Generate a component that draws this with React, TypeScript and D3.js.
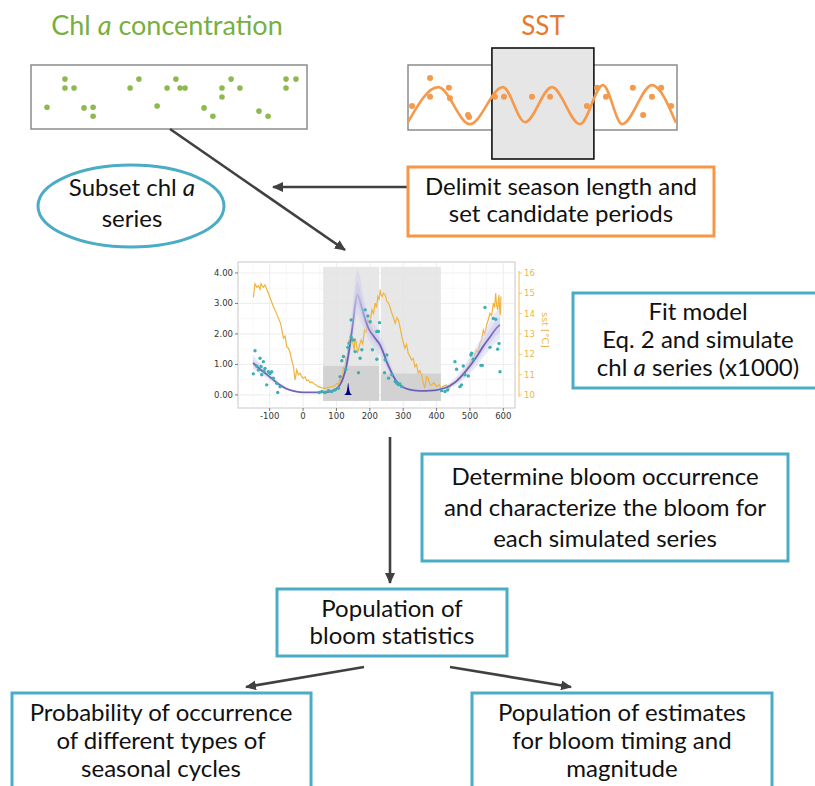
import React from 'react';
import * as d3 from 'd3';

const FONT = 'Lato, "Open Sans", sans-serif';
const GREEN_T = '#77AF41';
const GREEN_D = '#8DB94E';
const ORANGE_T = '#E8792A';
const ORANGE_L = '#F59A4C';
const ORANGE_B = '#F79646';
const TEAL = '#4BACC6';
const ARROW = '#404040';

// ---------- top-left panel: chl a samples ----------
const chlT = [12.3, 12.3, 15.6, 5.8, 19.2, 22.5, 22.5, 35.9, 39.1, 45.7, 49.3, 52.5, 54, 55.8, 62.7, 65.9, 69.2, 69.2, 72.5, 75.7, 82.6, 85.9, 92.4, 96, 92.4];
const chlV = [0.78, 0.64, 0.64, 0.34, 0.33, 0.34, 0.2, 0.64, 0.78, 0.36, 0.64, 0.78, 0.64, 0.64, 0.33, 0.2, 0.64, 0.5, 0.78, 0.64, 0.28, 0.2, 0.78, 0.78, 0.64];

// ---------- top-right panel: SST ----------
const sstCurveT = [0, 11.2, 23.0, 35.3, 43.5, 53.5, 63.9, 72.5, 79.6, 90.7, 99.6];
const sstCurveV = [0.12, 0.66, 0.09, 0.66, 0.12, 0.66, 0.09, 0.69, 0.09, 0.69, 0.11];
const sstDotT = [1.5, 8.2, 8.2, 15.2, 15.6, 22.3, 22.7, 32.3, 35.7, 46.1, 52.8, 66.5, 70.3, 73.6, 83.6, 87.4, 90.7, 94.1, 97.8];
const sstDotV = [0.37, 0.8, 0.51, 0.65, 0.49, 0.23, 0.2, 0.51, 0.51, 0.51, 0.51, 0.37, 0.65, 0.51, 0.65, 0.23, 0.51, 0.65, 0.37];
const seasonWindow = [31.2, 69.1];

// ---------- central chart ----------
const xTicks = [-100, 0, 100, 200, 300, 400, 500, 600];
const xMinor = [-150, -50, 50, 150, 250, 350, 450, 550];
const yTicks = [0, 1, 2, 3, 4];
const yMinor = [0.5, 1.5, 2.5, 3.5];
const sstTicks = [10, 11, 12, 13, 14, 15, 16];

const periodStart = [60, 233];
const periodEnd = [228, 413];
const periodTop = [4.2, 4.2];
const bloomLevel = [0.95, 0.7];

const sstDay = [-149, -144, -139, -134, -129, -126, -122, -119, -114, -109, -104, -97, -89, -82, -74, -67, -59, -54, -49, -44, -39, -34, -29, -24, -19, -14, -9, -4, 1, 6, 11, 16, 21, 26, 31, 38, 46, 56, 66, 76, 86, 94, 101, 106, 111, 116, 121, 125, 128, 132, 136, 141, 146, 150, 153, 156, 159, 163, 166, 170, 174, 179, 184, 189, 194, 200, 206, 211, 216, 220, 224, 228, 231, 234, 237, 241, 246, 251, 256, 261, 266, 271, 276, 281, 286, 291, 296, 300, 305, 310, 315, 320, 325, 330, 335, 340, 345, 350, 355, 360, 365, 370, 375, 380, 385, 392, 400, 407, 415, 422, 430, 437, 445, 455, 465, 475, 485, 495, 505, 512, 520, 525, 530, 535, 540, 545, 550, 555, 560, 565, 570, 574, 577, 580, 583, 585, 587, 589, 591, 593];
const sstVal = [14.8, 15.47, 15.3, 15.37, 15.2, 15.47, 15.35, 15.3, 15.42, 15.2, 15.0, 14.7, 14.35, 14.1, 13.78, 13.5, 12.8, 12.9, 12.38, 12.3, 12.1, 11.72, 11.4, 10.74, 11.23, 11.0, 11.07, 10.9, 10.82, 10.9, 10.7, 10.74, 10.6, 10.65, 10.57, 10.5, 10.41, 10.35, 10.33, 10.38, 10.41, 10.45, 10.57, 10.5, 10.82, 10.6, 11.39, 11.0, 11.89, 11.5, 12.7, 12.4, 12.87, 12.5, 12.2, 12.8, 12.6, 12.1, 12.2, 12.5, 12.7, 12.5, 13.2, 13.1, 13.7, 13.5, 14.19, 14.0, 14.52, 14.3, 14.84, 14.7, 15.17, 14.9, 14.84, 15.0, 14.92, 14.6, 14.52, 14.3, 14.02, 13.8, 13.53, 13.8, 13.69, 13.3, 12.87, 12.6, 12.3, 12.5, 12.05, 11.9, 11.72, 11.8, 11.39, 11.5, 11.07, 11.2, 10.99, 10.6, 10.33, 10.9, 10.82, 10.5, 10.49, 10.6, 10.41, 10.5, 10.33, 10.45, 10.49, 10.3, 10.57, 10.6, 10.82, 10.9, 11.15, 11.4, 11.72, 11.9, 12.2, 12.1, 12.55, 12.7, 13.2, 13.0, 13.45, 13.7, 14.02, 13.9, 14.52, 14.3, 15.0, 14.4, 14.19, 14.6, 14.92, 14.1, 13.94, 14.84];

const obsDay = [-144, -149, -139, -129, -126, -119, -114, -109, -104, -94, -89, -79, -76, -69, -124, -134, -117, -99, 48, 56, 66, 76, 86, 96, 106, 111, 116, 121, 128, 134, 138, 144, 144, 151, 156, 166, 171, 176, 186, 194, 201, 208, 221, 226, 229, 221, 246, 244, 251, 256, 266, 276, 281, 286, 290, 296, 415, 425, 433, 455, 460, 470, 475, 480, 485, 495, 503, 510, 505, 533, 537, 545, 560, 570, 577, 583, 587, 590];
const obsVal = [1.45, 0.69, 0.95, 1.2, 0.93, 1.09, 0.87, 0.33, 0.76, 0.76, 0.55, 0.38, 0.08, 0.27, 0.66, 0.82, 0.78, 0.7, 0.08, 0.11, 0.08, 0.14, 0.11, 0.16, 0.22, 0.6, 1.12, 1.26, 0.84, 1.56, 1.69, 1.89, 2.46, 1.8, 1.42, 0.73, 1.2, 1.48, 2.79, 2.59, 2.4, 1.48, 2.08, 2.08, 2.37, 1.17, 1.15, 0.73, 1.31, 0.55, 0.66, 0.44, 0.38, 0.33, 0.36, 0.27, 0.14, 0.11, 0.16, 1.09, 0.84, 0.27, 0.33, 0.95, 0.66, 0.62, 1.31, 1.17, 1.37, 0.97, 0.97, 2.87, 1.56, 2.51, 2.48, 1.5, 1.69, 0.76];

const fitDay = [-150, -130, -110, -90, -70, -50, -30, -10, 10, 30, 50, 70, 90, 100, 110, 120, 130, 140, 150, 158, 163, 170, 180, 190, 200, 210, 220, 230, 240, 250, 260, 270, 280, 290, 300, 320, 340, 360, 380, 400, 420, 440, 460, 480, 500, 520, 540, 560, 580, 590];
const fitMean = [1.05, 0.85, 0.68, 0.5, 0.33, 0.2, 0.13, 0.09, 0.08, 0.08, 0.08, 0.09, 0.14, 0.2, 0.32, 0.55, 0.95, 1.6, 2.4, 3.1, 3.3, 3.1, 2.7, 2.35, 2.1, 1.95, 1.8, 1.65, 1.4, 1.1, 0.85, 0.62, 0.45, 0.33, 0.25, 0.17, 0.14, 0.13, 0.14, 0.16, 0.21, 0.3, 0.45, 0.68, 0.95, 1.25, 1.6, 1.9, 2.2, 2.3];
const simUpper = [1.3, 1.05, 0.82, 0.6, 0.4, 0.25, 0.16, 0.11, 0.1, 0.1, 0.1, 0.12, 0.18, 0.26, 0.42, 0.75, 1.3, 2.1, 3.1, 3.9, 4.12, 3.9, 3.3, 2.85, 2.55, 2.35, 2.2, 2.0, 1.75, 1.4, 1.1, 0.82, 0.6, 0.44, 0.33, 0.22, 0.18, 0.16, 0.17, 0.2, 0.27, 0.4, 0.6, 0.9, 1.25, 1.6, 2.0, 2.4, 2.75, 2.85];
const simLower = [0.85, 0.7, 0.56, 0.41, 0.27, 0.16, 0.1, 0.07, 0.06, 0.06, 0.06, 0.07, 0.1, 0.15, 0.24, 0.42, 0.72, 1.25, 1.9, 2.5, 2.65, 2.5, 2.2, 1.95, 1.75, 1.6, 1.45, 1.3, 1.1, 0.85, 0.65, 0.47, 0.34, 0.25, 0.19, 0.13, 0.11, 0.1, 0.11, 0.12, 0.16, 0.22, 0.33, 0.5, 0.72, 0.95, 1.25, 1.5, 1.75, 1.85];

const bloomDay = [122, 126, 129, 131, 133, 134, 135, 136, 137, 139, 141, 144, 148];
const bloomDens = [0, 0.02, 0.06, 0.12, 0.25, 0.34, 0.4, 0.36, 0.26, 0.14, 0.07, 0.02, 0];

// ---------- flow chart text ----------
const titleChl = ['Chl ', 'a', ' concentration'];
const titleSst = 'SST';
const ellipseLines = [['Subset chl ', 'a'], ['series']];
const delimitLines = ['Delimit season length and', 'set candidate periods'];
const fitLines = [['Fit model'], ['Eq. 2 and simulate'], ['chl ', 'a', ' series (x1000)']];
const determineLines = ['Determine bloom occurrence', 'and characterize the bloom for', 'each simulated series'];
const populationLines = ['Population of', 'bloom statistics'];
const probLines = ['Probability of occurrence', 'of different types of', 'seasonal cycles'];
const estLines = ['Population of estimates', 'for bloom timing and', 'magnitude'];

function Rich({ parts, x, y, size, fill = '#111' }: { parts: string[]; x: number; y: number; size: number; fill?: string }) {
  return (
    <text x={x} y={y} fontSize={size} textAnchor="middle" fill={fill}>
      {parts.map((p, i) => (
        <tspan key={i} fontStyle={i % 2 === 1 ? 'italic' : 'normal'}>{p}</tspan>
      ))}
    </text>
  );
}

export default function App() {
  const cx = d3.scaleLinear().domain([0, 100]).range([31, 307]);
  const cy = d3.scaleLinear().domain([0, 1]).range([129, 65]);
  const sx = d3.scaleLinear().domain([0, 100]).range([408, 677]);
  const sy = d3.scaleLinear().domain([0, 1]).range([130, 65]);
  const sstCurve = d3.line<number>().x((d, i) => sx(sstCurveT[i])).y((d) => sy(d)).curve(d3.curveMonotoneX)(sstCurveV) || '';

  const X = d3.scaleLinear().domain([-195, 635]).range([238, 515]);
  const Y = d3.scaleLinear().domain([-0.43, 4.36]).range([408, 262]);
  const YS = d3.scaleLinear().domain([9.36, 16.54]).range([408, 262]);
  const sstPath = d3.line<number>().x((d, i) => X(sstDay[i])).y((d) => YS(d))(sstVal) || '';
  const meanPath = d3.line<number>().x((d, i) => X(fitDay[i])).y((d) => Y(d)).curve(d3.curveMonotoneX)(fitMean) || '';
  const bandPath = d3.area<number>().x((d, i) => X(fitDay[i])).y0((d, i) => Y(simLower[i])).y1((d) => Y(d)).curve(d3.curveMonotoneX)(simUpper) || '';
  const innerBand = d3.area<number>().x((d, i) => X(fitDay[i])).y0((d, i) => Y((simLower[i] + fitMean[i]) / 2)).y1((d, i) => Y((simUpper[i] + fitMean[i]) / 2)).curve(d3.curveMonotoneX)(fitMean) || '';
  const bloomPath = d3.area<number>().x((d, i) => X(bloomDay[i])).y0(Y(0)).y1((d) => Y(d)).curve(d3.curveMonotoneX)(bloomDens) || '';

  const arrowProps = { stroke: ARROW, strokeWidth: 2.6, markerEnd: 'url(#ah)' };
  const FS = 24;

  return (
    <svg width={815} height={786} style={{ position: 'absolute', left: 0, top: 0, background: '#fff' }} fontFamily={FONT}>
      <defs>
        <marker id="ah" markerUnits="userSpaceOnUse" markerWidth={12} markerHeight={10} refX={10} refY={5} orient="auto">
          <path d="M0,0 L11,5 L0,10 z" fill={ARROW} />
        </marker>
        <clipPath id="panel"><rect x={238} y={262} width={277} height={146} /></clipPath>
        <linearGradient id="fade" gradientUnits="userSpaceOnUse" x1={0} x2={0} y1={Y(1.8)} y2={Y(3.6)}>
          <stop offset="0" stopColor="#5a4fae" stopOpacity={0.85} />
          <stop offset="1" stopColor="#8a82cc" stopOpacity={0.15} />
        </linearGradient>
      </defs>

      {/* titles */}
      <Rich parts={titleChl} x={167} y={35} size={27} fill={GREEN_T} />
      <text x={543} y={35} fontSize={26} textAnchor="middle" fill={ORANGE_T}>{titleSst}</text>

      {/* chl panel */}
      <rect x={31} y={65} width={276} height={64} fill="#fff" stroke="#8c8c8c" strokeWidth={1.5} />
      {chlV.map((v, i) => (
        <circle key={i} cx={cx(chlT[i])} cy={cy(v)} r={2.8} fill={GREEN_D} />
      ))}

      {/* SST panel */}
      <rect x={408} y={65} width={269} height={65} fill="#fff" stroke="#8c8c8c" strokeWidth={1.5} />
      <rect x={sx(seasonWindow[0])} y={48} width={sx(seasonWindow[1]) - sx(seasonWindow[0])} height={111} fill="#e6e6e6" stroke="#111" strokeWidth={1.6} />
      <path d={sstCurve} fill="none" stroke={ORANGE_L} strokeWidth={2.6} />
      {sstDotV.map((v, i) => (
        <circle key={i} cx={sx(sstDotT[i])} cy={sy(v)} r={3} fill={ORANGE_L} />
      ))}

      {/* arrows top */}
      <line x1={170} y1={129} x2={345} y2={250} {...arrowProps} />
      <line x1={408} y1={187} x2={273} y2={187} {...arrowProps} />

      {/* ellipse */}
      <ellipse cx={131} cy={206} rx={93} ry={41} fill="#fff" stroke={TEAL} strokeWidth={3} />
      <Rich parts={ellipseLines[0]} x={132} y={196} size={FS} />
      <Rich parts={ellipseLines[1]} x={132} y={227} size={FS} />

      {/* orange box */}
      <rect x={408} y={167} width={306} height={69} fill="#fff" stroke={ORANGE_B} strokeWidth={3} />
      {delimitLines.map((l, i) => (
        <text key={i} x={561} y={195 + i * 27} fontSize={FS} textAnchor="middle" fill="#111">{l}</text>
      ))}

      {/* central chart */}
      <g>
        <rect x={238} y={262} width={277} height={146} fill="#fff" stroke="#c8c8c8" strokeWidth={1} />
        <g clipPath="url(#panel)">
          {xMinor.map((t) => <line key={'xm' + t} x1={X(t)} x2={X(t)} y1={262} y2={408} stroke="#f4f4f4" strokeWidth={0.6} />)}
          {yMinor.map((t) => <line key={'ym' + t} y1={Y(t)} y2={Y(t)} x1={238} x2={515} stroke="#f4f4f4" strokeWidth={0.6} />)}
          {xTicks.map((t) => <line key={'xg' + t} x1={X(t)} x2={X(t)} y1={262} y2={408} stroke="#e8e8e8" strokeWidth={0.8} />)}
          {yTicks.map((t) => <line key={'yg' + t} y1={Y(t)} y2={Y(t)} x1={238} x2={515} stroke="#e8e8e8" strokeWidth={0.8} />)}
          {periodStart.map((s, i) => (
            <rect key={'p' + i} x={X(s)} y={Y(periodTop[i])} width={X(periodEnd[i]) - X(s)} height={Y(-0.2) - Y(periodTop[i])} fill="#e3e3e3" opacity={0.85} />
          ))}
          {periodStart.map((s, i) => (
            <rect key={'b' + i} x={X(s)} y={Y(bloomLevel[i])} width={X(periodEnd[i]) - X(s)} height={Y(-0.2) - Y(bloomLevel[i])} fill="#c4c4c4" opacity={0.6} />
          ))}
          <path d={sstPath} fill="none" stroke="#F0B43C" strokeWidth={1.2} />
          <path d={bandPath} fill="#d2cff0" opacity={0.5} />
          <path d={innerBand} fill="#b8b2e2" opacity={0.3} />
          <path d={meanPath} fill="none" stroke="url(#fade)" strokeWidth={1.8} />
          {obsVal.map((v, i) => (
            <circle key={'o' + i} cx={X(obsDay[i])} cy={Y(v)} r={1.7} fill="#3AAFB4" />
          ))}
          <path d={bloomPath} fill="#000080" />
        </g>
        {yTicks.map((t) => (
          <g key={'yl' + t}>
            <line x1={235} x2={238} y1={Y(t)} y2={Y(t)} stroke="#555" strokeWidth={0.8} />
            <text x={233} y={Y(t) + 3} fontSize={8.5} textAnchor="end" fill="#333" fontFamily="'DejaVu Sans', sans-serif">{t.toFixed(2)}</text>
          </g>
        ))}
        {xTicks.map((t) => (
          <g key={'xl' + t}>
            <line x1={X(t)} x2={X(t)} y1={408} y2={411} stroke="#555" strokeWidth={0.8} />
            <text x={X(t)} y={419} fontSize={8.5} textAnchor="middle" fill="#333" fontFamily="'DejaVu Sans', sans-serif">{t}</text>
          </g>
        ))}
        <line x1={519} x2={519} y1={YS(16.1)} y2={YS(9.9)} stroke="#F0C05A" strokeWidth={1} />
        {sstTicks.map((t) => (
          <g key={'sl' + t}>
            <line x1={519} x2={522} y1={YS(t)} y2={YS(t)} stroke="#F0C05A" strokeWidth={0.8} />
            <text x={524} y={YS(t) + 3} fontSize={8.5} fill="#E8B84A" fontFamily="'DejaVu Sans', sans-serif">{t}</text>
          </g>
        ))}
        <text transform="translate(542,330) rotate(90)" fontSize={9.5} textAnchor="middle" fill="#E8B84A" fontFamily="'DejaVu Sans', sans-serif">sst [°C]</text>
      </g>

      {/* fit model box */}
      <rect x={573} y={293} width={252} height={95} fill="#fff" stroke={TEAL} strokeWidth={3} />
      {fitLines.map((l, i) => (
        <Rich key={i} parts={l} x={698} y={320 + i * 28} size={FS} />
      ))}

      {/* vertical arrow */}
      <line x1={390} y1={437} x2={390} y2={583} {...arrowProps} />

      {/* determine box */}
      <rect x={422} y={454} width={366} height={107} fill="#fff" stroke={TEAL} strokeWidth={3} />
      {determineLines.map((l, i) => (
        <text key={i} x={605} y={485 + i * 31} fontSize={FS} textAnchor="middle" fill="#111">{l}</text>
      ))}

      {/* population box */}
      <rect x={277} y={589} width={230} height={67} fill="#fff" stroke={TEAL} strokeWidth={3} />
      {populationLines.map((l, i) => (
        <text key={i} x={392} y={617 + i * 27} fontSize={FS} textAnchor="middle" fill="#111">{l}</text>
      ))}

      {/* bottom arrows */}
      <line x1={364} y1={667} x2={246} y2={687} {...arrowProps} />
      <line x1={450} y1={667} x2={571} y2={687} {...arrowProps} />

      {/* bottom boxes */}
      <rect x={12} y={693} width={299} height={120} fill="#fff" stroke={TEAL} strokeWidth={3} />
      {probLines.map((l, i) => (
        <text key={i} x={161} y={721 + i * 28} fontSize={FS} textAnchor="middle" fill="#111">{l}</text>
      ))}
      <rect x={472} y={693} width={300} height={120} fill="#fff" stroke={TEAL} strokeWidth={3} />
      {estLines.map((l, i) => (
        <text key={i} x={622} y={721 + i * 28} fontSize={FS} textAnchor="middle" fill="#111">{l}</text>
      ))}
    </svg>
  );
}
